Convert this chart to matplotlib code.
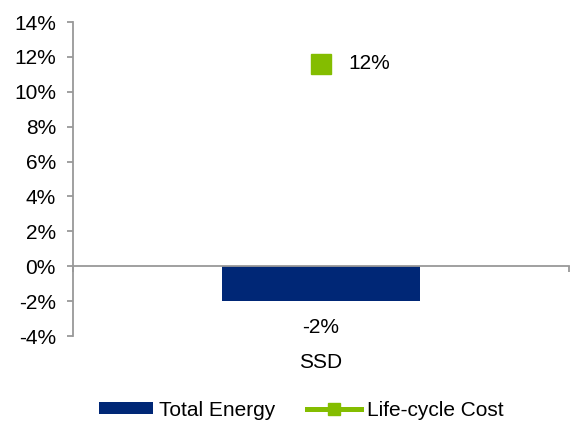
import matplotlib
matplotlib.use('Agg')
import matplotlib.pyplot as plt
from matplotlib.lines import Line2D
from matplotlib.patches import Patch
from matplotlib.ticker import FuncFormatter, MultipleLocator

plt.rcParams['font.family'] = ['Liberation Sans', 'DejaVu Sans']

# ── Data ──────────────────────────────────────────────────────────────────────
categories = ['SSD']
total_energy = [-0.02]
lifecycle_cost = [0.116]
y_ticks_min, y_ticks_max = -0.04, 0.14

NAVY = '#002776'
GREEN = '#84BD00'
GRAY = '#999999'
FS = 15

fig = plt.figure(figsize=(5.70, 4.24), dpi=100)
ax = fig.add_axes([0.128, 0.2075, 0.87, 0.7405])

x = list(range(len(categories)))
ax.bar(x, total_energy, width=0.4, color=NAVY, zorder=2)
ax.plot(x, lifecycle_cost, color=GREEN, lw=3.6, marker='s', ms=14.5,
        mec=GREEN, zorder=3)

for xi, v in zip(x, total_energy):
    ax.annotate(f'{v:.0%}', (xi, v), xytext=(0, -26), textcoords='offset pixels',
                ha='center', va='center', fontsize=FS)
for xi, v in zip(x, lifecycle_cost):
    ax.annotate(f'{v:.0%}', (xi, v), xytext=(27, 0), textcoords='offset pixels',
                ha='left', va='center', fontsize=FS)

ax.set_xlim(-0.5, len(categories) - 0.5)
ax.set_ylim(y_ticks_min, y_ticks_max)
ax.yaxis.set_major_locator(MultipleLocator(0.02))
ax.yaxis.set_major_formatter(FuncFormatter(lambda v, _: f'{v:.0%}'.replace('-0%', '0%')))

# axis styling: left spine + zero line with category boundary ticks
for s in ('top', 'right'):
    ax.spines[s].set_visible(False)
ax.spines['left'].set_color(GRAY)
ax.spines['left'].set_linewidth(1.3)
ax.spines['bottom'].set_position(('data', 0))
ax.spines['bottom'].set_color(GRAY)
ax.spines['bottom'].set_linewidth(1.3)
ax.set_xticks([i - 0.5 for i in range(len(categories) + 1)])
ax.set_xticklabels([])
ax.tick_params(axis='both', direction='out', length=4.3, width=1.3, color=GRAY)
ax.tick_params(axis='y', labelsize=FS, pad=8)

for xi, c in zip(x, categories):
    ax.text(xi, -0.055, c, ha='center', va='center', fontsize=FS)

handles = [
    Patch(facecolor=NAVY, edgecolor='none', label='Total Energy'),
    Line2D([], [], color=GREEN, lw=3.6, marker='s', ms=8, label='Life-cycle Cost'),
]
fig.legend(handles=handles, loc='center', bbox_to_anchor=(0.529, 0.033), ncol=2,
           frameon=False, fontsize=FS, handlelength=2.6, handleheight=0.5,
           handletextpad=0.3, columnspacing=1.5)

fig.savefig('out.png', dpi=100)
